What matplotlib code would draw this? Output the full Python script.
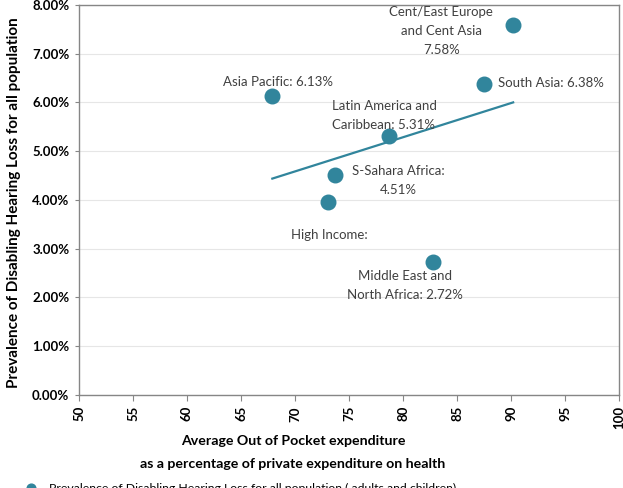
import matplotlib
matplotlib.use("Agg")
import matplotlib.pyplot as plt
import numpy as np

plt.rcParams['font.family'] = ['Lato', 'DejaVu Sans']

regions = ["Asia Pacific", "Cent/East Europe and Cent Asia", "South Asia",
           "Latin America and Caribbean", "S-Sahara Africa", "High Income",
           "Middle East and North Africa"]
oop = [67.9, 90.2, 87.5, 78.7, 73.7, 73.1, 82.8]
prevalence = [6.13, 7.58, 6.38, 5.31, 4.51, 3.95, 2.72]
labels = ["Asia Pacific: 6.13%", "Cent/East Europe\nand Cent Asia\n7.58%",
          "South Asia: 6.38%", "Latin America and\nCaribbean: 5.31%",
          "S-Sahara Africa:\n4.51%", "High Income:",
          "Middle East and\nNorth Africa: 2.72%"]
# label offsets in pixels (dx, dy) and alignment
offsets = [(6, 14, 'center'), (-72, -6, 'center'), (14, 1, 'left'),
           (-5, 21, 'center'), (63, -5, 'center'), (1, -33, 'center'),
           (-28, -23, 'center')]
xticks = list(range(50, 101, 5))
yticks = [0, 1, 2, 3, 4, 5, 6, 7, 8]

color = "#31859C"
fig = plt.figure(figsize=(6.23, 4.88), dpi=100)
ax = fig.add_axes([0.1268, 0.1906, 0.8668, 0.7992])

ax.scatter(oop, prevalence, s=110, color=color, zorder=3,
           label="Prevalence of Disabling Hearing Loss for all population ( adults and children)")
coef = np.polyfit(oop, prevalence, 1)
xl = np.array([min(oop), max(oop)])
ax.plot(xl, np.polyval(coef, xl), color=color, lw=1.6, zorder=2)

for x, y, t, (dx, dy, ha) in zip(oop, prevalence, labels, offsets):
    ax.annotate(t, (x, y), xytext=(dx, dy), textcoords='offset pixels',
                ha=ha, va='center', fontsize=9.5, color='#404040',
                linespacing=1.7)

ax.set_xlim(50, 100)
ax.set_ylim(0, 8)
ax.set_xticks(xticks)
ax.set_yticks(yticks)
ax.set_yticklabels([f"{v:.2f}%" for v in yticks], fontweight='bold', fontsize=9.5)
ax.set_xticklabels([str(v) for v in xticks], rotation=90, fontweight='bold', fontsize=9.5)
ax.grid(axis='y', color='#e6e6e6', lw=0.8)
ax.set_axisbelow(True)
for s in ax.spines.values():
    s.set_color('#868686')
    s.set_linewidth(1)
ax.tick_params(axis='x', length=4, color='#868686', pad=4)
ax.tick_params(axis='y', length=3, color='#868686', pad=4)

fig.text(293 / 623, 1 - 435 / 488,
         "Average Out of Pocket expenditure\nas a percentage of private expenditure on health",
         ha='center', va='top', fontweight='bold', fontsize=10.2, linespacing=2.1)
fig.text(14 / 623, 0.5 + 0.19 / 2 - 0.01,
         "Prevalence of Disabling Hearing Loss for all population",
         ha='center', va='center', rotation=90, fontweight='bold', fontsize=11)

fig.legend(loc='center left', bbox_to_anchor=(0.012, 0.0), frameon=False,
           fontsize=8.8, handletextpad=0.5, markerscale=0.6)

fig.savefig("out.png", dpi=100)
